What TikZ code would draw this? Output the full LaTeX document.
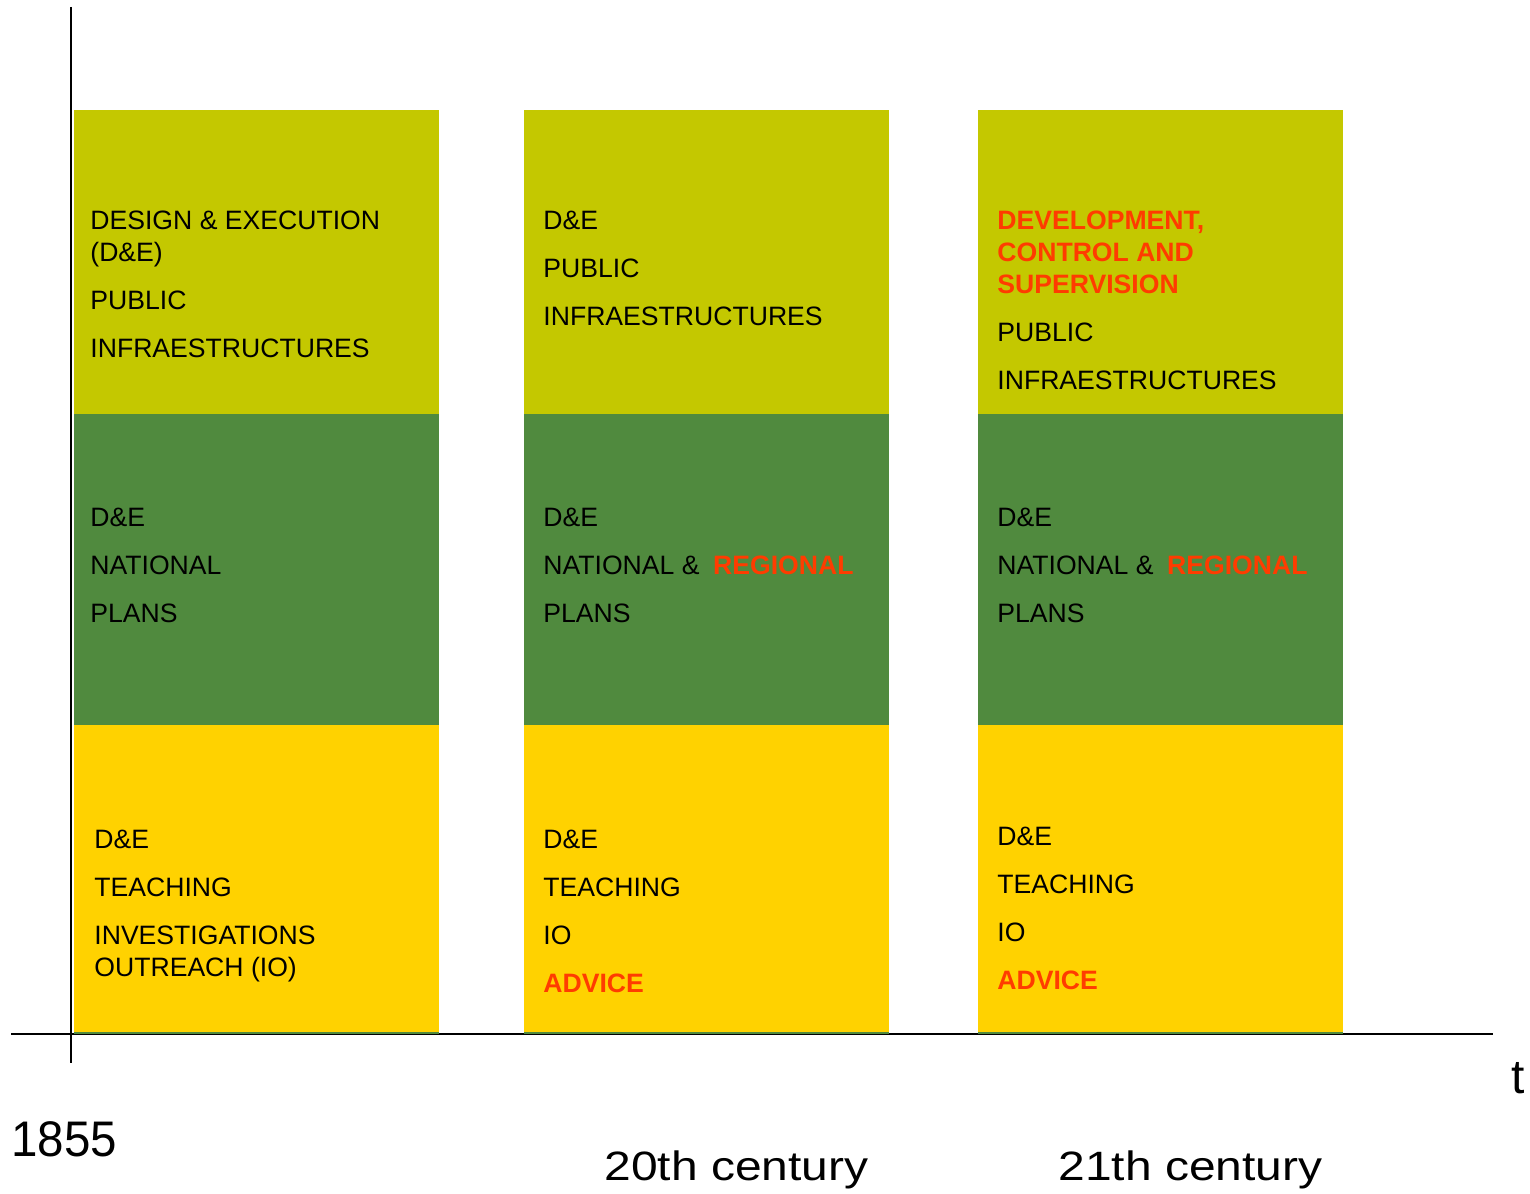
\documentclass[tikz,border=0pt]{standalone}
\usepackage{fontspec}
\setmainfont{Liberation Sans}
\usepackage{xcolor}
\usetikzlibrary{positioning}

\definecolor{limegreen}{RGB}{196,200,0}
\definecolor{leafgreen}{RGB}{80,138,62}
\definecolor{sunyellow}{RGB}{255,210,0}
\definecolor{hotred}{RGB}{255,60,0}
\newcommand{\hot}[1]{{\color{hotred}\bfseries #1}}

\begin{document}
\begin{tikzpicture}[
  x=0.5pt, y=-0.5pt,
  every node/.style={inner sep=0pt},
  cell/.style={anchor=north west, align=left,
    font=\fontsize{13.3}{16}\selectfont},
  era/.style={anchor=base west}
]
\useasboundingbox (0,0) rectangle (1530,1193);

% axes
\draw[line width=1pt] (11,1034) -- (1493,1034);
\draw[line width=0.8pt] (71,7) -- (71,1063);

% columns
\foreach \x in {74,524,978} {
  \fill[limegreen] (\x,110) rectangle ++(365,304);
  \fill[leafgreen] (\x,414) rectangle ++(365,311);
  \fill[sunyellow] (\x,725) rectangle ++(365,308);
  \draw[leafgreen, line width=1pt] (\x,1033) -- ++(365,0);
}

% 1855
\node[cell] (a1) at (90,211) {DESIGN \& EXECUTION\\(D\&E)\\[8pt]PUBLIC\\[8pt]INFRAESTRUCTURES};
\node[cell] (a2) at (90,508) {D\&E\\[8pt]NATIONAL\\[8pt]PLANS};
\node[cell] (a3) at (94,830) {D\&E\\[8pt]TEACHING\\[8pt]INVESTIGATIONS\\OUTREACH (IO)};

% 20th century
\node[cell] (b1) at (543,211) {D\&E\\[8pt]PUBLIC\\[8pt]INFRAESTRUCTURES};
\node[cell] (b2) at (543,508) {D\&E\\[8pt]NATIONAL \&\hspace{6.8pt}\hot{REGIONAL}\\[8pt]PLANS};
\node[cell] (b3) at (543,830) {D\&E\\[8pt]TEACHING\\[8pt]IO\\[8pt]\hot{ADVICE}};

% 21th century
\node[cell] (c1) at (997,211) {\hot{DEVELOPMENT,}\\\hot{CONTROL AND}\\\hot{SUPERVISION}\\[8pt]PUBLIC\\[8pt]INFRAESTRUCTURES};
\node[cell] (c2) at (997,508) {D\&E\\[8pt]NATIONAL \&\hspace{6.8pt}\hot{REGIONAL}\\[8pt]PLANS};
\node[cell] (c3) at (997,827) {D\&E\\[8pt]TEACHING\\[8pt]IO\\[8pt]\hot{ADVICE}};

% time labels
\node[era, font=\fontsize{25}{30}\selectfont, xscale=0.95] (y1855) at (11,1156) {1855};
\node[era, font=\fontsize{20.5}{25}\selectfont, xscale=1.17] (y20) at (604,1180) {20th century};
\node[era, font=\fontsize{20.5}{25}\selectfont, xscale=1.17] (y21) at (1058,1180) {21th century};
\node[era, font=\fontsize{24}{28}\selectfont] (tlabel) at (1511,1093) {t};
\end{tikzpicture}
\end{document}
